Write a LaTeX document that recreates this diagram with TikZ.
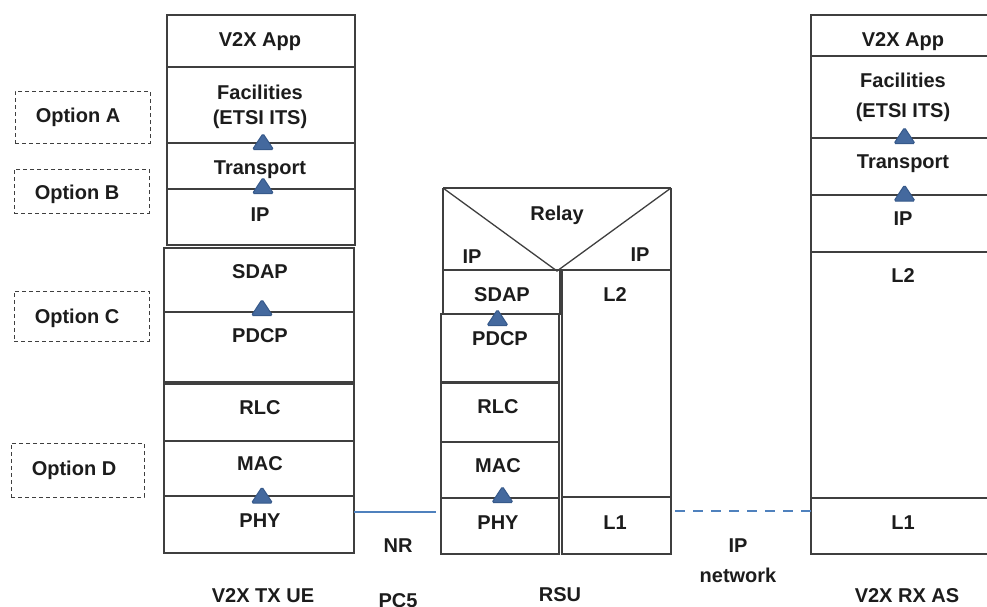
\documentclass[tikz,border=0pt]{standalone}
\usepackage{fontspec}
\setmainfont{Liberation Sans}
\definecolor{ink}{HTML}{1C1C1C}
\definecolor{edge}{HTML}{3F3F3F}
\definecolor{steel}{HTML}{44699E}
\definecolor{steeldark}{HTML}{36598A}
\definecolor{linkblue}{HTML}{4F81BD}

\begin{document}
\begin{tikzpicture}[x=1pt, y=-1pt, font=\fontsize{20}{24}\selectfont\bfseries, ink,
    layer/.style={draw=edge, line width=1.1pt, rectangle, inner sep=0pt, outer sep=0pt, anchor=north west},
    option/.style={draw=edge, line width=1pt, dash pattern=on 4pt off 3pt, rectangle, inner sep=0pt, outer sep=0pt, anchor=north west},
    lbl/.style={anchor=base, inner sep=0pt},
    tri/.style={fill=steel, draw=steeldark, line width=1pt, rounded corners=1.5pt},
    link/.style={linkblue, line width=1.6pt},
    uptri/.pic={\filldraw[tri] (-10.5,8) -- (0,-8) -- (10.5,8) -- cycle;},
  ]
\clip (0,0) rectangle (987,606);

% --- The layer boxes (name/x0/y0/x1/y1) ---------------------------------------------
\foreach \n/\x/\y/\X/\Y in {
    ueapp/167/15/355/67, uefac/167/67/355/143, uetra/167/143/355/189, ueip/167/189/355/245,
    uesdap/164/248/354/312, uepdcp/164/312/354/382,
    uerlc/164/384/354/441, uemac/164/441/354/496, uephy/164/496/354/553,
    rsusdap/443/270/560/314, rsupdcp/441/314/559/382,
    rsurlc/441/383/559/442, rsumac/441/442/559/498, rsuphy/441/498/559/554,
    rsul2/562/270/671/497, rsul1/562/497/671/554,
    rxapp/811/15/999/56, rxfac/811/56/999/138, rxtra/811/138/999/195,
    rxip/811/195/999/252, rxl2/811/252/999/498, rxl1/811/498/999/554} {
  \node[layer, minimum width={(\X-\x)*1pt}, minimum height={(\Y-\y)*1pt}] (\n) at (\x,\y) {};
}
% heavier seams
\draw[edge, line width=2pt] (rsul1.north west) -- (rsul1.north east);
\draw[edge, line width=2pt] (rxtra.north west) -- (rxtra.north east);

% --- The relay on top of the RSU -----------------------------------------------------------
\draw[edge, line width=2pt] (443,188) -- (671,188);
\draw[edge, line width=1.3pt] (443,188) -- (557,271) -- (671,188);
\draw[edge, line width=1.1pt] (443,188) -- (443,270) -- (557,270) (671,188) -- (671,270);

% --- Option boxes --------------------------------------------------------------------------
\foreach \n/\x/\y/\X/\Y in {opta/15/91/150/143, optb/14/169/149/213, optc/14/291/149/341, optd/11/443/144/497} {
  \node[option, minimum width={(\X-\x)*1pt}, minimum height={(\Y-\y)*1pt}] (\n) at (\x,\y) {};
}

% --- The option marks between layers ------------------------------------------------------
\foreach \x/\y in {263/141.5, 263/185.5, 262/307.5, 262/495, 497.5/317.5, 502.5/494.5, 904.5/135.5, 904.5/193}
  \pic at (\x,\y) {uptri};

% --- Links --------------------------------------------------------------------------------
\draw[link, shorten >=5pt] ([yshift=12.5pt]uephy.east) -- ([yshift=12.5pt]uephy.east -| rsuphy.west);
\draw[link, dash pattern=on 10pt off 8pt, shorten <=4pt] ([yshift=14.5pt]rsul1.east) -- ([yshift=14.5pt]rsul1.east -| rxl1.west);

% --- Texts (name/x/baseline/text) -----------------------------------------------------------
\foreach \n/\x/\y/\t in {
    ueappT/260/46/V2X App, uefacT/260/99/Facilities, uefacTb/260/124/{(ETSI ITS)},
    uetraT/260/174/Transport, ueipT/260/221/IP, uesdapT/260/278/SDAP, uepdcpT/260/342/PDCP,
    uerlcT/260/414/RLC, uemacT/260/470/MAC, uephyT/260/527/PHY, ueT/263/602/V2X TX UE,
    optaT/78/122/Option A, optbT/77/199/Option B, optcT/77/323/Option C, optdT/74/475/Option D,
    relayT/557/220/Relay, rsuipl/472/263/IP, rsuipr/640/261/IP, rsusdapT/502/301/SDAP,
    rsul2T/615/301/L2, rsupdcpT/500/345/PDCP, rsurlcT/498/413/RLC, rsumacT/498/472/MAC,
    rsuphyT/498/529/PHY, rsul1T/615/529/L1, rsuT/560/601/RSU,
    nrT/398/552/NR, pcT/398/607/PC5, ipnT/738/552/IP, ipnTb/738/582/network,
    rxappT/903/46/V2X App, rxfacT/903/87/Facilities, rxfacTb/903/117/{(ETSI ITS)},
    rxtraT/903/168/Transport, rxipT/903/225/IP, rxl2T/903/282/L2, rxl1T/903/529/L1,
    rxT/907/602/V2X RX AS} {
  \node[lbl] (\n) at (\x,\y) {\t};
}
\end{tikzpicture}
\end{document}
